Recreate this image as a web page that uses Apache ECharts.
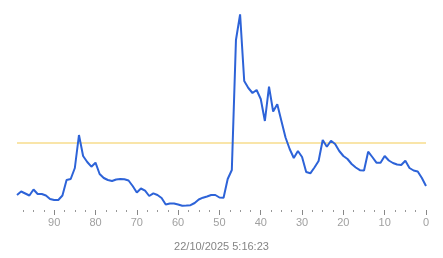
<!DOCTYPE html>
<html>
<head>
<meta charset="utf-8">
<script src="https://cdn.jsdelivr.net/npm/echarts@6/dist/echarts.min.js"></script>
<style>html,body{margin:0;padding:0;background:#fff;}#c{width:443px;height:258px;}</style>
</head>
<body>
<div id="c"></div>
<script>
// x positions (seconds ago, 99 .. 0)
const xValues = [99,98,97,96,95,94,93,92,91,90,89,88,87,86,85,84,83,82,81,80,79,78,77,76,75,74,73,72,71,70,69,68,67,66,65,64,63,62,61,60,59,58,57,56,55,54,53,52,51,50,49,48,47,46,45,44,43,42,41,40,39,38,37,36,35,34,33,32,31,30,29,28,27,26,25,24,23,22,21,20,19,18,17,16,15,14,13,12,11,10,9,8,7,6,5,4,3,2,1,0];
const yValues = [15,18.5,16.5,14.5,20.5,16,16,14.5,11,10,10,14.5,30,31,42,75,54,48,43.3,47.3,36,32,30,29,30.5,31,30.7,29.5,24,17.5,21.5,19.3,14,16.7,15,12,5.5,6.5,6.5,5.5,4.3,4.5,4.8,7,10.5,12.3,13.5,15,15,12.5,12.3,31,40,170,195.7,129,122,117,120,111,89,123.3,98.5,105.7,89,72.5,61,52,59,53,38,36.7,42.5,49,70,63.3,69.3,66,59,54,51,46,42.5,39.8,39.5,58.3,53,47.3,47.3,54,49.5,47,45.5,45,49.3,42,39.5,38.5,32,24];
const thresholdValue = 67;
const thresholdX = [99, 0];
const tickLabelsShown = [90,80,70,60,50,40,30,20,10,0];
const timestampLabel = '22/10/2025 5:16:23';

const chart = echarts.init(document.getElementById('c'), null, {renderer: 'canvas'});
chart.setOption({
  animation: false,
  grid: {left: 17, right: 17, top: 10, height: 200},
  xAxis: {
    type: 'value', inverse: true, min: 0, max: 99, interval: 10, offset: 1,
    axisLine: {show: false},
    axisTick: {show: true, length: 5, customValues: tickLabelsShown, lineStyle: {color: '#888', width: 1}},
    minorTick: {show: true, splitNumber: 4, length: 2, lineStyle: {color: '#999', width: 1}},
    splitLine: {show: false},
    axisLabel: {
      margin: 6, color: '#a0a0a0', fontSize: 11, fontFamily: 'Liberation Sans',
      customValues: tickLabelsShown,
      formatter: v => String(v)
    },
    name: timestampLabel, nameLocation: 'middle', nameGap: 30,
    nameTextStyle: {color: '#858585', fontSize: 11, fontFamily: 'Liberation Sans'}
  },
  yAxis: {type: 'value', min: 0, max: 200, show: false},
  series: [{
    type: 'line',
    data: thresholdX.map(x => [x, thresholdValue]),
    showSymbol: false, silent: true,
    lineStyle: {color: '#f7dc8c', width: 1.5},
    z: 1
  }, {
    type: 'line',
    data: xValues.map((x, i) => [x, yValues[i]]),
    showSymbol: false,
    lineStyle: {color: '#2d63d8', width: 2},
    z: 2
  }]
});
</script>
</body>
</html>
